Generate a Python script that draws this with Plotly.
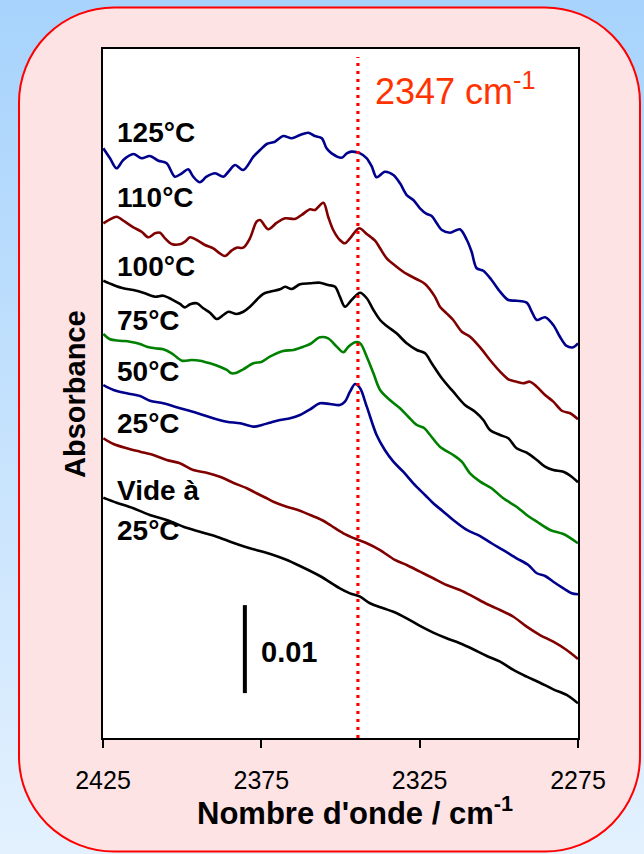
import base64
import plotly.graph_objects as go

# ---------------- data (wavenumber cm-1, absorbance) ----------------
wn_125 = [2424.9, 2422.8, 2420.7, 2418.6, 2415.4, 2412.8, 2410.2, 2407.5, 2404.9, 2402.3,
          2400.1, 2398.1, 2396.5, 2394.4, 2392.3, 2389.6, 2387.0, 2385.4, 2383.3, 2380.7,
          2377.5, 2375.4, 2373.3, 2370.7, 2368.1, 2365.4, 2362.8, 2360.2, 2358.1, 2355.9,
          2354.4, 2352.8, 2349.6, 2348.0, 2346.5, 2343.8, 2341.7, 2340.1, 2338.6, 2336.0,
          2333.3, 2331.2, 2329.1, 2327.0, 2324.9, 2322.8, 2321.2, 2319.6, 2318.0, 2315.4,
          2312.3, 2310.1, 2308.6, 2307.0, 2304.9, 2302.3, 2299.6, 2297.0, 2294.4, 2291.2,
          2289.6, 2288.0, 2285.4, 2282.8, 2280.7, 2278.6, 2276.5, 2275.0]
a_125 = [0.06701, 0.06588, 0.06474, 0.06568, 0.06636, 0.06588, 0.06614, 0.06560, 0.06531, 0.06378,
         0.06417, 0.06463, 0.06378, 0.06315, 0.06378, 0.06417, 0.06378, 0.06435, 0.06511, 0.06455,
         0.06606, 0.06682, 0.06750, 0.06776, 0.06841, 0.06815, 0.06852, 0.06878, 0.06841, 0.06815,
         0.06701, 0.06644, 0.06594, 0.06644, 0.06663, 0.06644, 0.06588, 0.06492, 0.06372, 0.06435,
         0.06398, 0.06303, 0.06170, 0.06114, 0.06019, 0.05955, 0.05932, 0.05849, 0.05773, 0.05742,
         0.05781, 0.05659, 0.05526, 0.05338, 0.05310, 0.05205, 0.05072, 0.04977, 0.04969, 0.04947,
         0.04844, 0.04750, 0.04781, 0.04693, 0.04560, 0.04455, 0.04440, 0.04485]

wn_110 = [2424.9, 2422.8, 2420.7, 2418.1, 2415.4, 2412.8, 2410.7, 2408.6, 2407.0, 2405.4,
          2403.3, 2400.7, 2399.1, 2397.5, 2395.4, 2392.8, 2390.2, 2388.1, 2386.5, 2384.4,
          2382.8, 2380.7, 2378.6, 2376.5, 2375.4, 2372.8, 2370.1, 2367.5, 2364.4, 2362.3,
          2359.6, 2358.1, 2355.4, 2353.9, 2352.3, 2350.2, 2348.6, 2347.0, 2344.1, 2341.7,
          2339.1, 2337.5, 2335.4, 2332.3, 2329.1, 2325.9, 2323.3, 2320.2, 2318.6, 2316.5,
          2314.4, 2311.7, 2309.1, 2305.9, 2302.8, 2299.6, 2297.0, 2294.4, 2292.3, 2290.2,
          2288.0, 2285.4, 2282.8, 2280.1, 2277.5, 2275.0]
a_110 = [0.05849, 0.05894, 0.05924, 0.05867, 0.05803, 0.05753, 0.05690, 0.05735, 0.05742, 0.05678,
         0.05614, 0.05610, 0.05640, 0.05690, 0.05659, 0.05602, 0.05565, 0.05508, 0.05477, 0.05538,
         0.05572, 0.05572, 0.05678, 0.05867, 0.05886, 0.05781, 0.05856, 0.05906, 0.05898, 0.05943,
         0.06008, 0.06000, 0.06083, 0.05924, 0.05773, 0.05659, 0.05622, 0.05678, 0.05792, 0.05727,
         0.05651, 0.05565, 0.05451, 0.05356, 0.05273, 0.05213, 0.05159, 0.05015, 0.04901, 0.04826,
         0.04750, 0.04617, 0.04560, 0.04438, 0.04295, 0.04163, 0.04076, 0.04049, 0.04031, 0.04049,
         0.03992, 0.03898, 0.03822, 0.03719, 0.03690, 0.03622]

wn_100 = [2424.9, 2421.7, 2418.6, 2415.4, 2412.3, 2408.6, 2406.0, 2403.3, 2400.7, 2399.1,
          2397.5, 2395.4, 2393.3, 2391.2, 2389.1, 2387.0, 2385.4, 2382.8, 2380.7, 2378.6,
          2376.5, 2374.5, 2372.3, 2369.1, 2367.5, 2365.4, 2362.8, 2359.6, 2356.5, 2353.9,
          2351.7, 2350.2, 2348.6, 2346.5, 2343.8, 2341.7, 2339.6, 2337.5, 2335.4, 2332.3,
          2329.1, 2325.9, 2323.3, 2321.2, 2318.0, 2314.4, 2310.7, 2307.5, 2304.9, 2302.8,
          2299.6, 2297.0, 2294.4, 2291.2, 2288.0, 2285.4, 2282.8, 2279.6, 2277.0, 2275.0]
a_100 = [0.05197, 0.05148, 0.05110, 0.05091, 0.05060, 0.05015, 0.05026, 0.04985, 0.04932, 0.04894,
         0.04928, 0.04940, 0.04883, 0.04833, 0.04761, 0.04807, 0.04844, 0.04818, 0.04844, 0.04901,
         0.04977, 0.05045, 0.05072, 0.05099, 0.05128, 0.05102, 0.05156, 0.05167, 0.05174, 0.05148,
         0.05128, 0.05015, 0.04901, 0.04977, 0.05060, 0.04997, 0.04864, 0.04750, 0.04682, 0.04599,
         0.04485, 0.04409, 0.04372, 0.04258, 0.04088, 0.03935, 0.03784, 0.03708, 0.03614, 0.03500,
         0.03443, 0.03406, 0.03292, 0.03242, 0.03159, 0.03083, 0.03045, 0.03026, 0.02969, 0.02906]

wn_75 = [2424.9, 2422.8, 2419.6, 2416.5, 2413.3, 2411.2, 2408.6, 2406.0, 2403.3, 2400.1,
         2397.0, 2394.4, 2391.2, 2388.1, 2385.9, 2384.4, 2382.8, 2380.7, 2377.5, 2374.8,
         2372.3, 2368.1, 2364.9, 2361.7, 2359.6, 2356.5, 2353.9, 2351.2, 2349.1, 2347.5,
         2345.4, 2343.8, 2341.7, 2339.6, 2337.5, 2334.4, 2331.2, 2328.6, 2325.9, 2323.6,
         2321.7, 2318.6, 2314.4, 2311.7, 2309.1, 2305.9, 2302.3, 2298.6, 2294.4, 2291.2,
         2288.0, 2283.8, 2279.6, 2275.0]
a_75 = [0.04591, 0.04531, 0.04515, 0.04503, 0.04477, 0.04447, 0.04428, 0.04417, 0.04372, 0.04288,
        0.04295, 0.04288, 0.04258, 0.04219, 0.04182, 0.04144, 0.04151, 0.04190, 0.04258, 0.04276,
        0.04333, 0.04398, 0.04409, 0.04447, 0.04477, 0.04553, 0.04542, 0.04447, 0.04383, 0.04447,
        0.04497, 0.04485, 0.04333, 0.04144, 0.03955, 0.03841, 0.03747, 0.03651, 0.03557, 0.03523,
        0.03443, 0.03310, 0.03216, 0.03140, 0.03008, 0.02913, 0.02838, 0.02724, 0.02628, 0.02534,
        0.02458, 0.02364, 0.02318, 0.02213]

wn_50 = [2424.9, 2421.7, 2417.5, 2413.3, 2410.2, 2406.0, 2402.3, 2398.6, 2394.4, 2390.2,
         2385.9, 2381.7, 2377.5, 2374.8, 2372.3, 2369.1, 2365.9, 2362.8, 2359.6, 2356.5,
         2353.3, 2350.2, 2348.6, 2347.0, 2345.4, 2343.8, 2341.7, 2338.6, 2336.0, 2333.3,
         2330.2, 2327.0, 2323.3, 2320.7, 2317.5, 2314.4, 2310.1, 2305.9, 2302.3, 2298.6,
         2294.4, 2290.7, 2288.0, 2285.4, 2282.8, 2279.6, 2277.0, 2275.0]
a_50 = [0.04011, 0.03955, 0.03917, 0.03886, 0.03833, 0.03803, 0.03765, 0.03727, 0.03682, 0.03633,
        0.03594, 0.03576, 0.03538, 0.03557, 0.03583, 0.03614, 0.03633, 0.03670, 0.03735, 0.03803,
        0.03795, 0.03784, 0.03822, 0.03935, 0.04023, 0.03974, 0.03765, 0.03443, 0.03273, 0.03140,
        0.03026, 0.02894, 0.02761, 0.02667, 0.02572, 0.02477, 0.02364, 0.02295, 0.02213, 0.02136,
        0.02042, 0.01966, 0.01872, 0.01841, 0.01776, 0.01701, 0.01644, 0.01633]

wn_25 = [2424.9, 2421.7, 2417.5, 2413.3, 2409.1, 2404.9, 2400.7, 2396.5, 2392.3, 2388.1,
         2383.9, 2379.6, 2376.5, 2373.8, 2371.2, 2367.0, 2362.8, 2359.6, 2355.9, 2352.8,
         2349.1, 2344.9, 2341.7, 2337.5, 2332.8, 2329.1, 2324.9, 2320.7, 2316.5, 2312.3,
         2308.1, 2303.8, 2299.6, 2295.4, 2291.2, 2287.0, 2282.8, 2278.6, 2275.0]
a_25 = [0.03406, 0.03341, 0.03292, 0.03253, 0.03216, 0.03159, 0.03122, 0.03045, 0.03015, 0.02969,
        0.02901, 0.02838, 0.02781, 0.02733, 0.02685, 0.02628, 0.02583, 0.02534, 0.02477, 0.02409,
        0.02326, 0.02258, 0.02213, 0.02136, 0.02023, 0.01966, 0.01890, 0.01815, 0.01739, 0.01682,
        0.01606, 0.01523, 0.01455, 0.01378, 0.01265, 0.01170, 0.01094, 0.01000, 0.00898]

wn_vide = [2424.9, 2420.7, 2415.4, 2410.2, 2404.9, 2399.6, 2394.4, 2389.1, 2383.9, 2378.6,
           2374.8, 2371.2, 2367.5, 2362.8, 2356.5, 2350.2, 2347.0, 2343.8, 2340.7, 2336.5,
           2333.3, 2329.1, 2324.9, 2320.7, 2316.5, 2312.3, 2308.1, 2303.8, 2299.6, 2295.4,
           2291.2, 2287.0, 2282.8, 2278.6, 2275.0]
a_vide = [0.02731, 0.02674, 0.02610, 0.02534, 0.02477, 0.02401, 0.02344, 0.02288, 0.02219, 0.02156,
          0.02119, 0.02080, 0.02031, 0.01955, 0.01841, 0.01701, 0.01644, 0.01606, 0.01531, 0.01474,
          0.01435, 0.01360, 0.01273, 0.01197, 0.01133, 0.01076, 0.01008, 0.00932, 0.00867, 0.00773,
          0.00697, 0.00628, 0.00553, 0.00489, 0.00394]

series_names = ["125°C", "110°C", "100°C", "75°C", "50°C", "25°C", "Vide à 25°C"]
x_ticks = [2425, 2375, 2325, 2275]
marker_wn = 2344.5          # dotted reference line (drawn position)
marker_label = "2347 cm<sup>-1</sup>"
scale_bar = 0.01

# ---------------- figure ----------------
W, H = 644, 854
ML, MR, MT, MB = 103, 66, 49, 116
PW, PH = W - ML - MR, H - MT - MB

series = [
    (wn_125, a_125, "#00008c"),
    (wn_110, a_110, "#800000"),
    (wn_100, a_100, "#000000"),
    (wn_75, a_75, "#008000"),
    (wn_50, a_50, "#00008c"),
    (wn_25, a_25, "#800000"),
    (wn_vide, a_vide, "#000000"),
]

fig = go.Figure()
for (xs, ys, col), name in zip(series, series_names):
    fig.add_trace(go.Scatter(x=xs, y=ys, mode="lines", name=name,
                             line=dict(color=col, width=2.6, shape="spline", smoothing=0.9),
                             showlegend=False, hoverinfo="skip"))

# background: gradient + rounded pink panel
svg = f'''<svg xmlns="http://www.w3.org/2000/svg" width="{W}" height="{H}" viewBox="0 0 {W} {H}">
<defs><linearGradient id="g" x1="0" y1="0" x2="0" y2="1">
<stop offset="0" stop-color="#a7d3fc"/><stop offset="1" stop-color="#e3f1fe"/></linearGradient></defs>
<rect width="{W}" height="{H}" fill="url(#g)"/>
<rect x="19" y="7.5" width="621" height="844" rx="95" ry="95" fill="#fee3e5" stroke="#ff0000" stroke-width="2"/>
</svg>'''
src = "data:image/svg+xml;base64," + base64.b64encode(svg.encode("utf-8")).decode("ascii")
fig.add_layout_image(dict(source=src, xref="paper", yref="paper",
                          x=-ML / PW, y=1 + MT / PH, sizex=W / PW, sizey=H / PH,
                          xanchor="left", yanchor="top", sizing="stretch", layer="below"))

# white plot area
fig.add_shape(type="rect", xref="paper", yref="paper", x0=0, x1=1, y0=0, y1=1,
              fillcolor="white", line=dict(width=0), layer="below")

# dotted marker line
fig.add_shape(type="line", xref="x", yref="paper", x0=marker_wn, x1=marker_wn, y0=0, y1=(738 - 57) / PH,
              line=dict(color="#ff0000", width=3.2, dash="3px,5px"))

# scale bar (0.01 absorbance)
bar_x = 2380.2
bar_y0 = 0.0051
fig.add_shape(type="line", xref="x", yref="y", x0=bar_x, x1=bar_x, y0=bar_y0, y1=bar_y0 + scale_bar,
              line=dict(color="black", width=4))


def px(xp):
    return (xp - ML) / PW


def py(yp):
    return (MT + PH - yp) / PH


label_font = dict(family="Liberation Sans, Arial", size=28, color="black")
label_pos = [("<b>125°C</b>", 132), ("<b>110°C</b>", 198), ("<b>100°C</b>", 266),
             ("<b>75°C</b>", 320), ("<b>50°C</b>", 371), ("<b>25°C</b>", 423),
             ("<b>Vide à</b>", 490), ("<b>25°C</b>", 530)]
for txt, yy in label_pos:
    fig.add_annotation(text=txt, xref="paper", yref="paper", x=px(115), y=py(yy),
                       xanchor="left", yanchor="middle", showarrow=False, font=label_font)

fig.add_annotation(text="<b>%.2f</b>" % scale_bar, xref="paper", yref="paper", x=px(259), y=py(652),
                   xanchor="left", yanchor="middle", showarrow=False,
                   font=dict(family="Liberation Sans, Arial", size=29, color="black"))

fig.add_annotation(text=marker_label, xref="paper", yref="paper", x=px(373), y=py(89),
                   xanchor="left", yanchor="middle", showarrow=False,
                   font=dict(family="Liberation Sans, Arial", size=36, color="#ff3300"))

fig.add_annotation(text="<b>Absorbance</b>", xref="paper", yref="paper", x=px(75), y=py(394),
                   xanchor="center", yanchor="middle", textangle=-90, showarrow=False,
                   font=dict(family="Liberation Sans, Arial", size=29, color="black"))

fig.add_annotation(text="<b>Nombre d'onde / cm<sup>-1</sup></b>", xref="paper", yref="paper",
                   x=px(355), y=py(811), xanchor="center", yanchor="middle", showarrow=False,
                   font=dict(family="Liberation Sans, Arial", size=31, color="black"))

fig.update_xaxes(range=[2425, 2275], tickvals=x_ticks, ticktext=[str(t) for t in x_ticks],
                 ticks="outside", ticklen=8, tickwidth=2, tickcolor="black",
                 showline=True, linecolor="black", linewidth=2, mirror=True,
                 showgrid=False, zeroline=False, ticklabelstandoff=11,
                 tickfont=dict(family="Liberation Sans, Arial", size=25, color="black"))
fig.update_yaxes(range=[0, (PH) / 8800], showticklabels=False, ticks="",
                 showline=True, linecolor="black", linewidth=2, mirror=True,
                 showgrid=False, zeroline=False)

fig.update_layout(width=W, height=H, autosize=False,
                  margin=dict(l=ML, r=MR, t=MT, b=MB),
                  paper_bgcolor="#cfe6fd", plot_bgcolor="rgba(0,0,0,0)",
                  showlegend=False)

fig.write_html("out.html", config={"displayModeBar": False, "staticPlot": True},
               post_script="document.body.style.margin='0px';document.body.style.overflow='hidden';")
